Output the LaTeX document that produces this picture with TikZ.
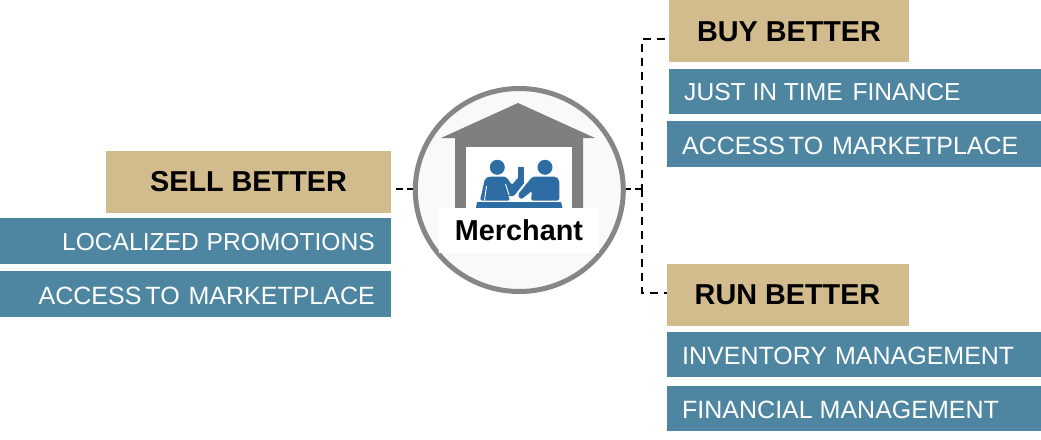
\documentclass[tikz,border=0pt]{standalone}
\usepackage{fontspec}
\usetikzlibrary{shapes.geometric}
\setmainfont{Liberation Sans}
\definecolor{tanbox}{HTML}{D2BC8D}
\definecolor{tealbox}{HTML}{4E86A1}
\definecolor{iconblue}{HTML}{2E6DA4}
\definecolor{housegrey}{HTML}{7F7F7F}
\definecolor{ringgrey}{HTML}{868686}
\definecolor{hubfill}{HTML}{F9F9F9}
\tikzset{
  headbox/.style={fill=tanbox,inner sep=0pt,anchor=north west},
  headtext/.style={anchor=center,text=black,inner sep=0pt,font=\fontsize{28.8}{32}\selectfont\bfseries},
  itembox/.style={fill=tealbox,inner sep=0pt,anchor=north west},
  itemtext/.style={text=white,inner sep=0pt,font=\fontsize{25}{28}\selectfont},
  link/.style={draw=black,line width=2pt,dash pattern=on 8pt off 6pt},
  person/.style={fill=iconblue,draw=none}
}
\begin{document}
\begin{tikzpicture}[x=1pt,y=-1pt]
\useasboundingbox (0,0) rectangle (1041,439);
% boxes
\node[headbox,minimum width=240pt,minimum height=62pt] (buy) at (669,0) {};
\node[headtext] (buytext) at (789,32) {BUY BETTER};
\node[itembox,minimum width=372pt,minimum height=45pt] (just) at (669,69) {};
\node[itembox,minimum width=374pt,minimum height=46pt] (accessr) at (667,121) {};
\node[headbox,minimum width=242pt,minimum height=62pt] (run) at (667,264) {};
\node[headtext] (runtext) at (787.5,295) {RUN BETTER};
\node[itembox,minimum width=374pt,minimum height=45pt] (inv) at (667,332) {};
\node[itembox,minimum width=374pt,minimum height=45pt] (fin) at (667,386) {};
\node[headbox,minimum width=285pt,minimum height=62pt] (sell) at (106,151) {};
\node[headtext] (selltext) at (248.5,182) {SELL BETTER};
\node[itembox,minimum width=391pt,minimum height=46pt] (loc) at (0,218) {};
\node[itembox,minimum width=391pt,minimum height=46pt] (accessl) at (0,271) {};
% texts
\node[itemtext,anchor=west,font=\fontsize{24.6}{28}\selectfont] (justtext) at (684,92.5) {JUST IN TIME\kern3pt{} FINANCE};
\node[itemtext,anchor=west] (accessrtext) at (682,145.5) {ACCESS\kern-3pt{} TO\kern2pt{} MARKETPLACE};
\node[itemtext,anchor=west] (invtext) at (682,355.5) {INVENTORY\kern1pt{} MANAGEMENT};
\node[itemtext,anchor=west] (fintext) at (682,409.5) {FINANCIAL\kern0pt{} MANAGEMENT};
\node[itemtext,anchor=east,font=\fontsize{24.6}{28}\selectfont] (loctext) at (375,242.5) {LOCALIZED\kern1pt{} PROMOTIONS};
\node[itemtext,anchor=east] (accessltext) at (375,295.5) {ACCESS\kern-3pt{} TO\kern2pt{} MARKETPLACE};
% connectors
\coordinate (sellport) at (396,189);
\coordinate (hubleft) at (414,189);
\coordinate (hubright) at (624,189);
\coordinate (junction) at (642,189);
\coordinate (buyport) at (665,39);
\coordinate (runport) at (667,293);
\coordinate (buyturn) at (642,39);
\coordinate (runturn) at (642,293);
\draw[link,dash pattern=on 7pt off 4pt] (sellport) -- (hubleft);
\draw[link,dash pattern=on 7pt off 4pt] (hubright) -- (junction);
\draw[link] (buyport) -- (buyturn) -- (junction);
\draw[link] (junction) -- (runturn) -- (runport);
% hub
\node[ellipse,minimum width=208pt,minimum height=203pt,inner sep=0pt,line width=5pt,draw=ringgrey,fill=hubfill] (hub) at (519.3,190) {};
% house
\fill[housegrey] (518,103) -- (595,138) -- (583,138) -- (583,208) -- (455,208) -- (455,138) -- (441,138) -- cycle;
\fill[white] (466,147) rectangle (572,208);
% people
\fill[person] (497.3,167.3) circle (7.5);
\fill[person] (545,167.3) circle (7.5);
\fill[person,rounded corners=2pt] (480,200.5) -- (485,178.5) -- (489,176.5) -- (506,176.5) -- (512,185) -- (518.5,177) -- (525,182) -- (513,197) -- (508,195) -- (510,200.5) -- cycle;
\fill[person] (518.3,166.7) rectangle (524.3,182);
\draw[white,line width=0.9pt] (486.5,186) -- (484.5,200.5);
\draw[white,line width=0.9pt] (505.5,184) -- (509,195);
\fill[person,rounded corners=2pt] (531,200.5) -- (532,191) -- (521,199.5) -- (517.5,195) -- (532.5,176.5) -- (556,176.5) -- (559.3,180) -- (559.3,200.5) -- cycle;
\fill[person] (477,202) -- (561,202) -- (562.5,208) -- (476,208) -- cycle;
% label
\node[fill=white,minimum width=160pt,minimum height=45pt,inner sep=0pt,font=\fontsize{28.8}{32}\selectfont\bfseries] (merchant) at (519,230.5) {Merchant};
\end{tikzpicture}
\end{document}
